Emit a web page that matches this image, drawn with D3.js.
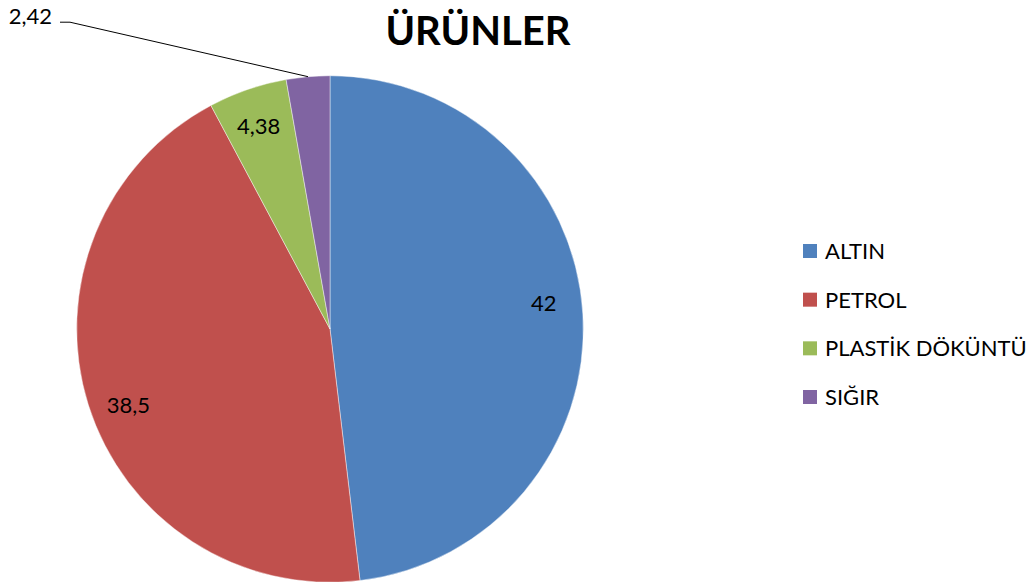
<!DOCTYPE html>
<html>
<head>
<meta charset="utf-8">
<script src="https://cdn.jsdelivr.net/npm/d3@7"></script>
<style>
  html, body { margin: 0; padding: 0; background: #fff; }
  svg { display: block; }
  text { font-family: Lato, "Open Sans", sans-serif; fill: #000; }
</style>
</head>
<body>
<svg id="chart" width="1035" height="582"></svg>
<script>
// ---- data ----
const title = "ÜRÜNLER";
const categories = ["ALTIN", "PETROL", "PLASTİK DÖKÜNTÜ", "SIĞIR"];
const values = [42, 38.5, 4.38, 2.42];
const valueLabels = ["42", "38,5", "4,38", "2,42"];
const colors = ["#4F81BD", "#C0504D", "#9BBB59", "#8064A2"];

// ---- layout ----
const W = 1035, H = 582;
const cx = 330, cy = 329, R = 253.3;
const svg = d3.select("#chart");

// title
svg.append("text")
  .attr("x", 478).attr("y", 45)
  .attr("text-anchor", "middle")
  .style("font-weight", "bold")
  .style("font-size", "40px")
  .text(title);

const pie = d3.pie().sort(null).value(d => d);
const arcs = pie(values);
const arc = d3.arc().innerRadius(0).outerRadius(R);

const g = svg.append("g").attr("transform", `translate(${cx},${cy})`);

g.selectAll("path.slice")
  .data(arcs)
  .join("path")
  .attr("class", "slice")
  .attr("d", arc)
  .attr("fill", (d, i) => colors[i])
  .attr("stroke", "#ffffff")
  .attr("stroke-opacity", 0.55)
  .attr("stroke-width", 0.8);

// data labels
const labelFont = 22;
const pt = (a, r) => [r * Math.sin(a), -r * Math.cos(a)];
arcs.forEach((d, i) => {
  const span = d.endAngle - d.startAngle;
  if (span > 0.25) {
    const a = d.startAngle + 0.48 * span;
    const [x, y] = pt(a, 0.85 * R);
    g.append("text")
      .attr("x", x).attr("y", y + labelFont * 0.36)
      .attr("text-anchor", "middle")
      .style("font-size", labelFont + "px")
      .text(valueLabels[i]);
  } else {
    const a = (d.startAngle + d.endAngle) / 2;
    const [ex, ey] = pt(a, R);
    const lx = -270, ly = -R - 53.5;
    g.append("path")
      .attr("d", `M${lx},${ly}L${lx + 10},${ly}L${ex},${ey}`)
      .attr("fill", "none")
      .attr("stroke", "#000")
      .attr("stroke-width", 1);
    g.append("text")
      .attr("x", lx - 8).attr("y", ly + 1.5)
      .attr("text-anchor", "end")
      .style("font-size", labelFont + "px")
      .text(valueLabels[i]);
  }
});

// legend
const legY = d3.scalePoint().domain(categories).range([251, 397]);
const leg = svg.append("g");
const items = leg.selectAll("g").data(categories).join("g")
  .attr("transform", d => `translate(803,${legY(d)})`);
items.append("rect")
  .attr("x", 0).attr("y", -7).attr("width", 14).attr("height", 14)
  .attr("fill", (d, i) => colors[i]);
items.append("text")
  .attr("x", 22).attr("y", 8)
  .style("font-size", "22px")
  .text(d => d);
</script>
</body>
</html>
